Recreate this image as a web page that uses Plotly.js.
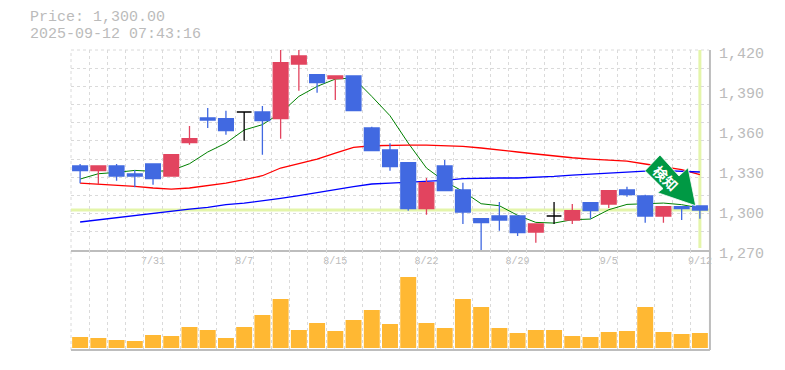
<!DOCTYPE html>
<html><head><meta charset="utf-8">
<script src="https://cdn.plot.ly/plotly-3.0.1.min.js"></script>
<style>html,body{margin:0;padding:0;background:#fff}#c{width:785px;height:370px}</style>
</head><body><div id="c"></div>
<script>
const dates=['7/25','7/28','7/29','7/30','7/31','8/1','8/4','8/5','8/6','8/7','8/8','8/12','8/13','8/14','8/15','8/18','8/19','8/20','8/21','8/22','8/25','8/26','8/27','8/28','8/29','9/1','9/2','9/3','9/4','9/5','9/8','9/9','9/10','9/11','9/12'];
const dateTicks=['7/31','8/7','8/15','8/22','8/29','9/5','9/12'];
const priceTicks=[1270,1300,1330,1360,1390,1420];
const open=[1333,1329.5,1333,1327,1334.5,1325.5,1350.5,1369,1368.5,1373.5,1373.5,1368.5,1409.5,1401.5,1398.5,1400.5,1361.5,1345,1335.5,1301,1333,1315,1293.5,1295.5,1295.5,1283.5,1295.5,1292.5,1305.5,1304.5,1315,1310.5,1295.5,1302.5,1303];
const close=[1329.5,1333,1325.5,1325.5,1323.5,1341.5,1353.5,1367.5,1359.5,1373.5,1367,1410.5,1415.5,1395.5,1400.5,1374.5,1344.5,1332.5,1301,1320.5,1314.5,1298.5,1290.5,1292.5,1283,1289.5,1295.5,1299.5,1299.5,1314.5,1311.5,1295.5,1302.5,1301,1300];
const high=[1334.5,1333,1334.5,1330,1334.5,1342,1363,1376.5,1374.5,1373.5,1378,1424,1424,1402,1400.5,1400.5,1362.5,1350,1336,1324,1337.5,1320.5,1293.5,1306,1295.5,1289.5,1306,1304.5,1305.5,1315,1317.5,1311.5,1302.5,1302.5,1303];
const low=[1320,1319.5,1322,1317,1319,1325.5,1349,1361.5,1356.5,1352,1341.5,1353.5,1389.5,1388,1382.5,1374.5,1344.5,1329.5,1299.5,1296.5,1314.5,1289.5,1270,1284.5,1280.5,1275.5,1289.5,1289.5,1293.5,1301.5,1310,1290.5,1290.5,1292.5,1293.5];
const volume=[11,10,8,7,13,12,21,18,10,21,33,49,18,25,17,28,38,24,71,25,20,49,41,20,15,18,18,12,11,16,17,41,16,14,15];
const ma5=[1323.2,1327.2,1328.2,1329.7,1329,1329.5,1334.7,1343.5,1350.2,1360,1364,1372.7,1385.2,1392.7,1398.2,1399,1385.2,1370.7,1350.2,1331.5,1321.5,1314,1304.7,1303.2,1296,1290.7,1290.2,1292.7,1293.2,1300.2,1304.2,1304.7,1305.2,1304,1301.5];
const ma25=[1320.2,1319.5,1318.7,1317.7,1316.5,1315.7,1316.5,1318.2,1320.2,1322.7,1325.7,1331.5,1334.7,1338.2,1342.7,1347,1348.2,1348.7,1348.7,1348.7,1348.2,1347.7,1346.5,1345.2,1343.5,1342,1340.5,1339.2,1338.2,1337.5,1336.7,1334.5,1332.2,1330.2,1326.5];
const ma75=[1291,1292.7,1294.2,1296,1297.5,1299.2,1300.7,1302,1304,1305.2,1306.7,1308.7,1310.7,1313.2,1315.2,1317.5,1319.5,1320.2,1320.7,1321.5,1322.2,1323.5,1324,1324,1324,1324.5,1325.2,1326.2,1327,1327.7,1328.5,1329.2,1329.5,1329.2,1328.5];
const lastPrice=1300;
const priceLabel='Price: 1,300.00', stampLabel='2025-09-12 07:43:16', badge='検知';

const idx=dates.map((_,i)=>i);
const RED='#E2445F',BLUE='#4169E1',GRID='#dadada',AX='#bdbdbd',TXT='#bbbbbb',MONO='"Liberation Mono",monospace';
const pick=(a,s)=>s.map(i=>a[i]);
const dojiI=idx.filter(i=>open[i]===close[i]), bodyI=idx.filter(i=>open[i]!==close[i]);
const line=(y,c,w)=>({type:'scatter',mode:'lines',x:idx,y,xaxis:'x',yaxis:'y',line:{color:c,width:w},hoverinfo:'skip'});
const traces=[
 line(ma5,'#008000',1),line(ma25,'#ff0000',1.3),line(ma75,'#0000ff',1.3),
 {type:'bar',x:idx,y:volume,xaxis:'x',yaxis:'y2',marker:{color:'#FFB833',line:{width:0}}},
 {type:'candlestick',x:bodyI,open:pick(open,bodyI),high:pick(high,bodyI),low:pick(low,bodyI),close:pick(close,bodyI),xaxis:'x',yaxis:'y3',
  increasing:{line:{color:RED,width:1.3},fillcolor:RED},decreasing:{line:{color:BLUE,width:1.3},fillcolor:BLUE},whiskerwidth:0},
 {type:'candlestick',x:dojiI,open:pick(open,dojiI),high:pick(high,dojiI),low:pick(low,dojiI),close:pick(close,dojiI),xaxis:'x',yaxis:'y3',
  increasing:{line:{color:'#000',width:1.3},fillcolor:'#000'},decreasing:{line:{color:'#000',width:1.3},fillcolor:'#000'},whiskerwidth:0}
];
const arrow=[[660,155],[645,170.7],[663,188.6],[657.7,192.7],[695.7,205.7],[688,167.7],[679,176]];
const arrowPath='M'+arrow.map(p=>(p[0]-71)/638+','+(1-(p[1]-50)/300)).join('L')+'Z';
const layout={
 width:785,height:370,margin:{l:71,r:76,t:50,b:20},paper_bgcolor:'#fff',plot_bgcolor:'#fff',showlegend:false,bargap:0.125,boxgap:0.19,boxgroupgap:0,hovermode:false,
 font:{family:MONO,color:TXT},
 xaxis:{range:[-0.5,34.5],anchor:'y',tickmode:'array',tickvals:dateTicks.map(d=>dates.indexOf(d)),ticktext:dateTicks,showgrid:false,zeroline:false,ticks:'',
  tickfont:{family:MONO,size:10,color:TXT},showline:true,linecolor:AX,linewidth:2,rangeslider:{visible:false},tickangle:0,automargin:false,
  minor:{tick0:-0.5,dtick:1,showgrid:true,gridcolor:GRID,griddash:'3px,3px',gridwidth:1,ticks:''}},
 yaxis:{domain:[1/3,1],range:[1270,1420],side:'right',anchor:'x',tickmode:'array',tickvals:priceTicks,ticktext:priceTicks.map(v=>v.toLocaleString('en-US')),
  showgrid:false,zeroline:false,ticks:'',ticklabelshift:3,ticklabelstandoff:9,tickfont:{family:MONO,size:15,color:TXT},automargin:false,
  minor:{tick0:1270,dtick:150/11,showgrid:true,gridcolor:GRID,griddash:'3px,3px',gridwidth:1,ticks:''}},
 yaxis2:{domain:[0,1/3],range:[-2,98],anchor:'x',showgrid:false,zeroline:false,showticklabels:false,ticks:''},
 yaxis3:{overlaying:'y',range:[1270,1420],side:'right',anchor:'x',showgrid:false,zeroline:false,showticklabels:false,ticks:''},
 shapes:[
  {type:'line',layer:'below',xref:'paper',yref:'paper',x0:0,x1:0,y0:0,y1:1,line:{color:GRID,width:1,dash:'3px,3px'}},
  {type:'line',layer:'below',xref:'paper',yref:'paper',x0:0,x1:1,y0:1,y1:1,line:{color:GRID,width:1,dash:'3px,3px'}},
  {type:'line',layer:'below',xref:'x',yref:'y',x0:-0.5,x1:34.5,y0:lastPrice,y1:lastPrice,line:{color:'#E4F5AA',width:3}},
  {type:'line',layer:'below',xref:'x',yref:'paper',x0:34,x1:34,y0:1/3+2/300,y1:1,line:{color:'#E4F5AA',width:3}},
  {type:'line',xref:'paper',yref:'paper',x0:1.0015,x1:1.0015,y0:0,y1:1,line:{color:AX,width:2}},
  {type:'line',xref:'paper',yref:'paper',x0:0,x1:1.0015,y0:0,y1:0,line:{color:AX,width:2}},
  {type:'path',xref:'paper',yref:'paper',path:arrowPath,fillcolor:'#009944',line:{color:'#ffffff',width:0.8}}
 ],
 annotations:[
  {xref:'paper',yref:'paper',x:(28-71)/638,y:1+(50-17.5)/300,xanchor:'left',yanchor:'middle',text:priceLabel,showarrow:false,font:{family:MONO,size:15,color:TXT}},
  {xref:'paper',yref:'paper',x:(28-71)/638,y:1+(50-34)/300,xanchor:'left',yanchor:'middle',text:stampLabel,showarrow:false,font:{family:MONO,size:15,color:TXT}},
  {xref:'paper',yref:'paper',x:(666-71)/638,y:1-(178-50)/300,xanchor:'center',yanchor:'middle',text:badge,textangle:45,showarrow:false,font:{family:'"Noto Sans CJK JP"',size:14,color:'#fff',weight:700}}
 ]
};
Plotly.newPlot('c',traces,layout,{staticPlot:true,displayModeBar:false});
</script></body></html>
